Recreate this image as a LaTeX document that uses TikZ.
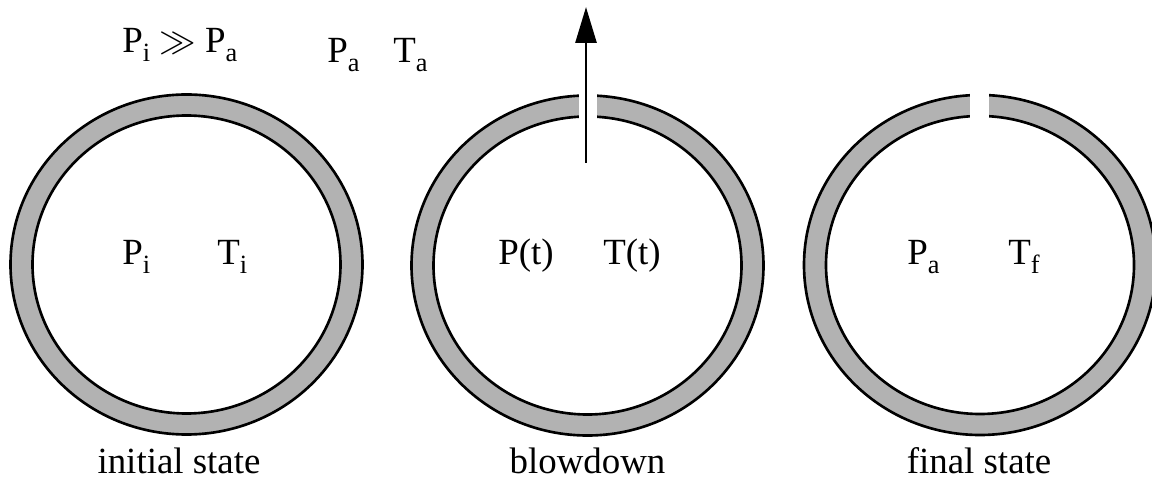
\documentclass[tikz,border=0pt]{standalone}
\usepackage{fontspec}
\setmainfont{Liberation Serif}
\usetikzlibrary{arrows.meta}

\newcommand{\subs}[1]{\raisebox{-0.22em}{\fontsize{15}{15}\selectfont #1}}

\tikzset{
  wall/.style={fill=black!30, draw=black, line width=1.5pt, even odd rule},
  txt/.style={inner sep=0pt, anchor=base west, font=\fontsize{21}{25}\selectfont},
  caption/.style={inner sep=0pt, anchor=base, font=\fontsize{21}{25}\selectfont},
  jet/.style={line width=1.6pt, -{Triangle[length=0.72cm,width=0.42cm]}}
}

\begin{document}
\begin{tikzpicture}[x=0.02cm, y=0.02cm]
    \useasboundingbox (0,0) rectangle (1152,480);

    % Behaelter: Wand als Ring
    \foreach \cx/\cy in {186.5/215.5, 587.5/214.5, 980/215} {
        \path[wall] (\cx,\cy) ellipse [x radius=176, y radius=170]
                    (\cx,\cy) ellipse [x radius=154, y radius=149];
    }

    % Oeffnungen oben
    \fill[white] (579,352) rectangle (597,395);
    \fill[white] (970,352) rectangle (989,395);

    % Ausstroemung
    \coordinate (jetfoot) at (586,317);
    \coordinate (jettip)  at (586,473);
    \draw[jet] (jetfoot) -- (jettip);

    % Umgebung
    \node[txt] (ratio) at (122,427) {P\subs{i} $\gg$ P\subs{a}};
    \node[txt] (pamb)  at (327,417) {P\subs{a}};
    \node[txt] (tamb)  at (393,417) {T\subs{a}};

    % Zustaende im Behaelter
    \node[txt] (pini) at (122,215)  {P\subs{i}};
    \node[txt] (tini) at (217,215)  {T\subs{i}};
    \node[txt] (pt)   at (498,215)  {P(t)};
    \node[txt] (tt)   at (603,215)  {T(t)};
    \node[txt] (pfin) at (907,215)  {P\subs{a}};
    \node[txt] (tfin) at (1008,215) {T\subs{f}};

    % Beschriftung
    \node[caption] (initial) at (179,7)   {initial state};
    \node[caption] (blow)    at (587.5,7) {blowdown};
    \node[caption] (final)   at (979,7)   {final state};
\end{tikzpicture}
\end{document}
